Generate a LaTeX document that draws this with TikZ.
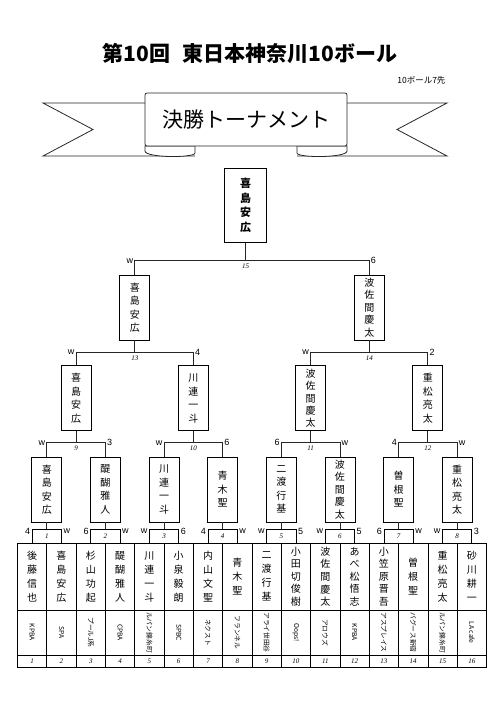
\documentclass[tikz,border=0pt]{standalone}
\usepackage{fontspec}
\usetikzlibrary{positioning}
\newfontfamily\jp{Noto Sans CJK JP}
\newfontfamily\scorefont{Liberation Sans}
\newfontfamily\numfont{Liberation Serif}
\tikzset{
  wire/.style={line width=.8pt,draw=black!85},
  pbox/.style={draw,line width=.8pt,minimum width=30pt,minimum height=65pt,inner sep=0pt,
               align=center,font=\jp\fontsize{10}{13.5}\selectfont},
  champ/.style={pbox,minimum width=42pt,minimum height=74pt,font=\jp\bfseries\fontsize{11}{14.5}\selectfont},
  mbox/.style={draw,line width=.7pt,minimum width=29.3125pt,minimum height=14pt,inner sep=0pt,
               font=\numfont\itshape\fontsize{7}{8}\selectfont},
  namecell/.style={draw,line width=.7pt,minimum width=29.3125pt,minimum height=66.7pt,inner sep=0pt,
                   align=center},
  clubcell/.style={draw,line width=.7pt,rotate=-90,minimum width=45pt,minimum height=29.3125pt,
                   inner sep=0pt,font=\jp\fontsize{6.7}{8}\selectfont},
  numcell/.style={draw,line width=.7pt,minimum width=29.3125pt,minimum height=12.7pt,inner sep=0pt,
                  font=\numfont\itshape\fontsize{7}{8}\selectfont},
  score/.style={font=\scorefont\fontsize{9}{10}\selectfont,inner sep=1.5pt},
  mnum/.style={font=\numfont\itshape\fontsize{7}{8}\selectfont,inner sep=1pt},
}
\begin{document}
\begin{tikzpicture}[x=1pt,y=-1pt]
  \useasboundingbox (0,0) rectangle (500,707);

  % title
  \node[font=\jp\bfseries\fontsize{21}{24}\selectfont] (title) at (250,54) {第10回\hspace{12pt}東日本神奈川10ボール};
  \node[font=\jp\fontsize{8.5}{10}\selectfont,anchor=east] (race) at (449,80) {10ボール7先};

  % banner
  \draw[wire] (145,103) -- (43,103) -- (93,129.5) -- (43,156) -- (195,156);
  \draw[wire] (347,103) -- (447,103) -- (397,129.5) -- (447,156) -- (297,156);
  \draw[wire,fill=white] (145,146) -- (195,146) -- (195,153) .. controls (195,158) and (145,158) .. (145,151) -- cycle;
  \draw[wire,fill=white] (347,146) -- (297,146) -- (297,153) .. controls (297,158) and (347,158) .. (347,151) -- cycle;
  \draw[wire,fill=white,rounded corners=2pt] (145,93) rectangle (347,146);
  \node[font=\jp\fontsize{21}{24}\selectfont] (banner) at (246,120) {決勝トーナメント};

  % players
  \foreach \nm/\cl/\sk [count=\i] in {後\\藤\\信\\也/KPBA/14, 喜\\島\\安\\広/SPA/14, 杉\\山\\功\\起/プールJ系/14,
      醍\\醐\\雅\\人/CPBA/14, 川\\連\\一\\斗/ルパン錦糸町/14, 小\\泉\\毅\\朗/SPBC/14, 内\\山\\文\\聖/ネクスト/14,
      青\\木\\聖/フランネル/14, 二\\渡\\行\\基/アライ世田谷/14, 小\\田\\切\\俊\\樹/Oops!/12.6,
      波\\佐\\間\\慶\\太/アロウズ/12.6, あ\\べ\\松\\悟\\志/KPBA/12.6, 小\\笠\\原\\晋\\吾/アスプレイス/12.6,
      曽\\根\\聖/バグース新宿/14, 重\\松\\亮\\太/ルパン錦糸町/14, 砂\\川\\耕\\一/LA cafe/14}{
    \pgfmathsetmacro\cx{17.5+29.3125*(\i-0.5)}
    \node[namecell,font=\jp\fontsize{10}{\sk}\selectfont] (n\i) at (\cx,576.65) {\nm};
    \node[clubcell] (c\i) at (\cx,632.5) {\cl};
    \node[numcell] (k\i) at (\cx,661.35) {\i};
  }

  % round 1
  \foreach \i/\sl/\sr/\nm/\sk in {1/4/w/喜\\島\\安\\広/13.5, 2/6/w/醍\\醐\\雅\\人/13.5, 3/w/6/川\\連\\一\\斗/13.5,
      4/4/w/青\\木\\聖/13.5, 5/w/5/二\\渡\\行\\基/13.5, 6/w/5/波\\佐\\間\\慶\\太/12.4, 7/6/w/曽\\根\\聖/13.5,
      8/w/3/重\\松\\亮\\太/13.5}{
    \pgfmathsetmacro\mx{17.5+29.3125*(2*\i-1)}
    \node[mbox] (m\i) at (\mx,536.3) {\i};
    \node[score,anchor=east,yshift=-2pt] (ml\i) at (m\i.north west) {\sl};
    \node[score,anchor=west,yshift=-2pt] (mr\i) at (m\i.north east) {\sr};
    \node[pbox,font=\jp\fontsize{10}{\sk}\selectfont] (w\i) at (\mx,489.5) {\nm};
    \draw[wire] (m\i.north) -- (w\i.south);
  }

  % quarter finals
  \foreach \j/\sl/\sr/\nm/\sk [evaluate=\j as \a using int(2*\j-1), evaluate=\j as \b using int(2*\j),
      evaluate=\j as \k using int(8+\j)] in {1/w/3/喜\\島\\安\\広/13.5, 2/w/6/川\\連\\一\\斗/13.5,
      3/6/w/波\\佐\\間\\慶\\太/12.4, 4/4/w/重\\松\\亮\\太/13.5}{
    \pgfmathsetmacro\qx{17.5+29.3125*(4*\j-2)}
    \node[pbox,font=\jp\fontsize{10}{\sk}\selectfont] (q\j) at (\qx,398.3) {\nm};
    \coordinate (j\k) at (\qx,442.7);
    \draw[wire] (w\a.north) |- (j\k) -| (w\b.north);
    \draw[wire] (q\j.south) -- (j\k);
    \node[mnum,below=2pt] (l\k) at (j\k) {\k};
    \node[score,anchor=east] (sl\k) at (w\a.north |- j\k) {\sl};
    \node[score,anchor=west] (sr\k) at (w\b.north |- j\k) {\sr};
  }

  % semi finals
  \foreach \j/\sl/\sr/\nm/\sk [evaluate=\j as \a using int(2*\j-1), evaluate=\j as \b using int(2*\j),
      evaluate=\j as \k using int(12+\j)] in {1/w/4/喜\\島\\安\\広/13.5, 2/w/2/波\\佐\\間\\慶\\太/12.4}{
    \pgfmathsetmacro\sx{17.5+29.3125*(8*\j-4)}
    \node[pbox,font=\jp\fontsize{10}{\sk}\selectfont] (s\j) at (\sx,307.5) {\nm};
    \coordinate (j\k) at (\sx,352.3);
    \draw[wire] (q\a.north) |- (j\k) -| (q\b.north);
    \draw[wire] (s\j.south) -- (j\k);
    \node[mnum,below=2pt] (l\k) at (j\k) {\k};
    \node[score,anchor=east] (sl\k) at (q\a.north |- j\k) {\sl};
    \node[score,anchor=west] (sr\k) at (q\b.north |- j\k) {\sr};
  }

  % final
  \node[champ] (champ) at (245.5,205.3) {喜\\島\\安\\広};
  \coordinate (j15) at (245.5,260.7);
  \draw[wire] (s1.north) |- (j15) -| (s2.north);
  \draw[wire] (champ.south) -- (j15);
  \node[mnum,below=2pt] (l15) at (j15) {15};
  \node[score,anchor=east] (sl15) at (s1.north |- j15) {w};
  \node[score,anchor=west] (sr15) at (s2.north |- j15) {6};
\end{tikzpicture}
\end{document}
